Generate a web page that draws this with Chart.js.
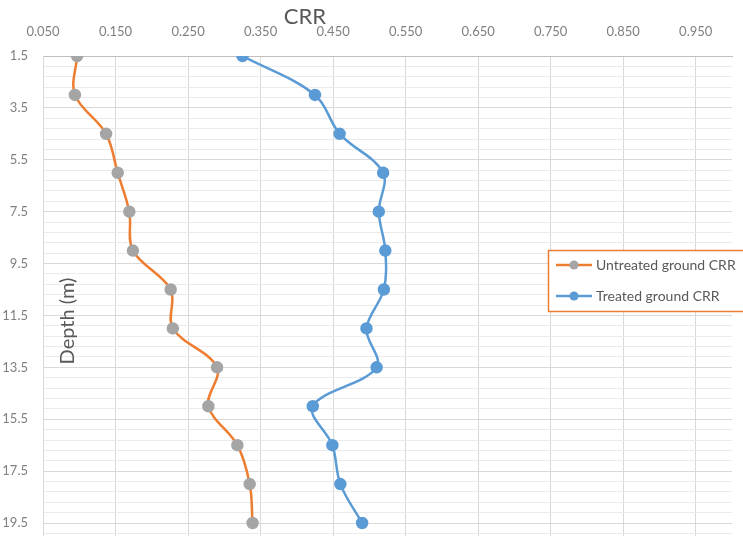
<!DOCTYPE html>
<html>
<head>
<meta charset="utf-8">
<script src="https://cdn.jsdelivr.net/npm/chart.js@4"></script>
<style>
  html, body { margin: 0; padding: 0; background: #fff; overflow: hidden; }
  #wrap { width: 743px; height: 536px; position: relative; }
</style>
</head>
<body>
<div id="wrap"><canvas id="myChart"></canvas></div>
<script>
// depth (m) of each reading
const depths = [1.5, 3.0, 4.5, 6.0, 7.5, 9.0, 10.5, 12.0, 13.5, 15.0, 16.5, 18.0, 19.5];
// CRR values
const untreatedCRR = [0.097, 0.094, 0.137, 0.153, 0.169, 0.174, 0.226, 0.229, 0.290, 0.278, 0.318, 0.335, 0.339];
const treatedCRR = [0.325, 0.425, 0.459, 0.519, 0.513, 0.522, 0.520, 0.496, 0.510, 0.422, 0.449, 0.460, 0.490];
const seriesNames = ['Untreated ground CRR', 'Treated ground CRR'];
// tick labels
const xTicks = [0.05, 0.15, 0.25, 0.35, 0.45, 0.55, 0.65, 0.75, 0.85, 0.95];
const yMajorTicks = [1.5, 3.5, 5.5, 7.5, 9.5, 11.5, 13.5, 15.5, 17.5, 19.5];

const ctx = document.getElementById('myChart').getContext('2d');

function toPoints(values) {
    return values.map((v, i) => ({ x: v, y: depths[i] }));
}

function isMajor(v) {
    return yMajorTicks.some(t => Math.abs(t - v) < 1e-6);
}

// minor y gridlines every 0.4 m (5 per major step)
const yAllTicks = [];
for (let i = 0; i < 47; i++) {
    const v = Math.round((1.5 + i * 0.4) * 1000) / 1000;
    if (v <= 20.0) yAllTicks.push(v);
}

// titles and legend box drawn like Excel
const extras = {
    id: 'extras',
    afterDraw(chart) {
        const c = chart.ctx;
        c.save();
        c.fillStyle = '#595959';
        c.textAlign = 'center';
        c.textBaseline = 'middle';
        c.font = '22px Lato';
        c.fillText('CRR', 305, 17);

        c.translate(68, 321);
        c.rotate(-Math.PI / 2);
        c.font = '20px Lato';
        c.fillText('Depth (m)', 0, 0);
        c.restore();

        // legend
        c.save();
        c.fillStyle = '#fff';
        c.fillRect(548, 250, 200, 61);
        c.strokeStyle = '#ED7D31';
        c.lineWidth = 1.5;
        c.strokeRect(548.5, 250.5, 200, 61);
        const rows = [265, 296];
        chart.data.datasets.forEach((ds, i) => {
            const y = rows[i];
            c.strokeStyle = ds.borderColor;
            c.lineWidth = 2.5;
            c.beginPath();
            c.moveTo(556, y);
            c.lineTo(592, y);
            c.stroke();
            c.fillStyle = ds.pointBackgroundColor;
            c.beginPath();
            c.arc(574, y, 4.5, 0, Math.PI * 2);
            c.fill();
            c.fillStyle = '#595959';
            c.font = '14px Lato';
            c.textAlign = 'left';
            c.textBaseline = 'middle';
            c.fillText(ds.label, 596, y);
        });
        c.restore();
    }
};

const myChart = new Chart(ctx, {
    type: 'line',
    data: {
        datasets: [
            {
                label: seriesNames[0],
                data: toPoints(untreatedCRR),
                borderColor: '#ED7D31',
                borderWidth: 2.5,
                pointBackgroundColor: '#A5A5A5',
                pointBorderColor: '#A5A5A5',
                pointRadius: 5,
                tension: 0.35,
                fill: false
            },
            {
                label: seriesNames[1],
                data: toPoints(treatedCRR),
                borderColor: '#5B9BD5',
                borderWidth: 2.5,
                pointBackgroundColor: '#5B9BD5',
                pointBorderColor: '#5B9BD5',
                pointRadius: 5,
                tension: 0.35,
                fill: false
            }
        ]
    },
    options: {
        responsive: true,
        maintainAspectRatio: false,
        animation: false,
        // the plot runs off the bottom edge, as in the original
        layout: { autoPadding: false, padding: { top: 0, right: 11, bottom: 0, left: 0 } },
        scales: {
            x: {
                type: 'linear',
                position: 'top',
                min: 0.05,
                max: 1.0,
                afterBuildTicks: scale => {
                    scale.ticks = xTicks.map(v => ({ value: v }));
                },
                afterFit: scale => {
                    scale.height = 56;
                    scale.paddingLeft = 0;
                    scale.paddingRight = 0;
                },
                ticks: {
                    autoSkip: false,
                    maxRotation: 0,
                    padding: 16,
                    color: '#7F7F7F',
                    font: { family: 'Lato', size: 13 },
                    callback: value => Number(value).toFixed(3)
                },
                grid: {
                    drawTicks: false,
                    color: '#D9D9D9',
                    lineWidth: 1
                },
                border: { display: true, color: '#BFBFBF', width: 1 }
            },
            y: {
                type: 'linear',
                reverse: true,
                min: 1.5,
                max: 20.0,
                afterBuildTicks: scale => {
                    scale.ticks = yAllTicks.map(v => ({ value: v }));
                },
                afterFit: scale => {
                    scale.width = 43;
                    scale.paddingTop = 0;
                    scale.paddingBottom = 0;
                },
                ticks: {
                    autoSkip: false,
                    padding: 15,
                    color: '#7F7F7F',
                    font: { family: 'Lato', size: 13 },
                    callback: value => isMajor(value) ? Number(value).toFixed(1) : ''
                },
                grid: {
                    drawTicks: false,
                    color: c => isMajor(c.tick.value) ? '#D9D9D9' : '#EBEBEB',
                    lineWidth: 1
                },
                border: { display: true, color: '#D9D9D9', width: 1 }
            }
        },
        plugins: {
            legend: { display: false },
            title: { display: false },
            tooltip: { enabled: false }
        }
    },
    plugins: [extras]
});
</script>
</body>
</html>
